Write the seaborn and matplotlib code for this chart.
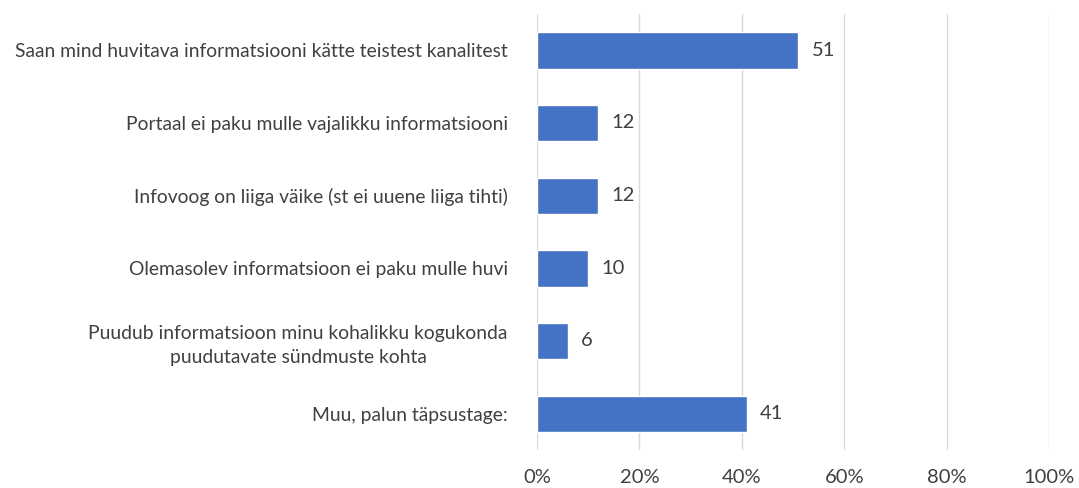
import matplotlib
matplotlib.use("Agg")
import matplotlib.pyplot as plt
import seaborn as sns
import pandas as pd

# Data
categories = [
    "Saan mind huvitava informatsiooni kätte teistest kanalitest",
    "Portaal ei paku mulle vajalikku informatsiooni",
    "Infovoog on liiga väike (st ei uuene liiga tihti)",
    "Olemasolev informatsioon ei paku mulle huvi",
    "Puudub informatsioon minu kohalikku kogukonda\npuudutavate sündmuste kohta",
    "Muu, palun täpsustage:",
]
values = [51, 12, 12, 10, 6, 41]
x_ticks = [0, 20, 40, 60, 80, 100]
x_tick_labels = ["0%", "20%", "40%", "60%", "80%", "100%"]

df = pd.DataFrame({"category": categories, "value": values})

sns.set_style("white")
plt.rcParams["font.family"] = ["Lato", "DejaVu Sans"]

text_color = "#404040"
bar_color = "#4472C4"

fig = plt.figure(figsize=(10.79, 4.88), dpi=100)
ax = fig.add_axes([537 / 1079, 1 - 450 / 488, 512 / 1079, 436 / 488])

sns.barplot(data=df, x="value", y="category", color=bar_color, width=0.5,
            saturation=1, ax=ax, zorder=3)

ax.set_xlim(0, 100)
ax.set_ylim(5.5, -0.5)
ax.set_xticks(x_ticks)
ax.set_xticklabels(x_tick_labels)
ax.grid(axis="x", color="#d9d9d9", linewidth=1, zorder=0)
ax.set_axisbelow(True)
for s in ax.spines.values():
    s.set_visible(False)
ax.set_xlabel("")
ax.set_ylabel("")
ax.tick_params(axis="x", length=0, pad=14, labelsize=14.5, labelcolor=text_color)
ax.tick_params(axis="y", length=0, pad=21, labelsize=13.9, labelcolor=text_color)
for lbl in ax.get_yticklabels():
    lbl.set_multialignment("center")
    lbl.set_linespacing(1.45)

# value labels
for i, v in enumerate(values):
    ax.text(v + 2.6, i, str(v), va="center", ha="left", fontsize=14.5,
            color=text_color)

fig.savefig("out.png", dpi=100)
